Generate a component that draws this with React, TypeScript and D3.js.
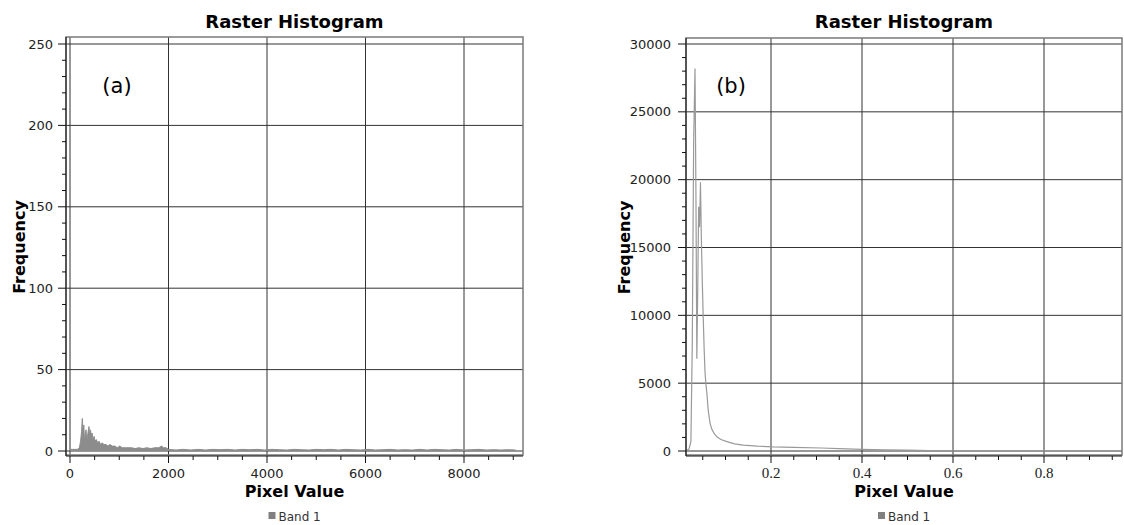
import React from "react";
import * as d3 from "d3";

// (a) histogram: pixel value bins and counts
const leftBins = [0, 50, 100, 150, 190, 215, 235, 250, 265, 280, 295, 310, 325, 340, 355, 370, 385, 400, 415, 430, 450, 470, 490, 510, 535, 560, 590, 620, 650, 690, 730, 770, 810, 860, 910, 960, 1010, 1060, 1120, 1180, 1250, 1320, 1400, 1480, 1560, 1640, 1720, 1800, 1860, 1900, 1950, 2000, 2150, 2300, 2450, 2600, 2750, 2900, 3050, 3200, 3350, 3500, 3650, 3800, 3950, 4100, 4250, 4400, 4550, 4700, 4850, 5000, 5150, 5300, 5450, 5600, 5750, 5900, 6050, 6200, 6350, 6500, 6650, 6800, 6950, 7100, 7250, 7400, 7550, 7700, 7850, 8000, 8150, 8300, 8450, 8600, 8750, 8900, 9050];
const leftFreq = [1, 1, 1, 1, 2, 6, 12, 20, 11, 16, 6, 10, 13, 7, 9, 12, 15, 9, 13, 10, 11, 7, 9, 6, 7, 5, 6, 4, 5, 4, 4, 3, 4, 3, 3, 2, 3, 2, 2, 2, 2, 1.5, 2, 1.5, 2, 1.5, 2, 2, 3, 2, 2, 1, 0.6, 1, 0.6, 1, 0.6, 1, 0.8, 1, 0.6, 1, 0.8, 1, 0.6, 1, 0.8, 0.6, 1, 0.8, 0.6, 1, 0.8, 1, 0.6, 1, 0.8, 0.6, 1, 0.6, 0.8, 1, 0.6, 0.8, 0.6, 1, 0.6, 1, 0.8, 0.6, 1, 0.6, 0.8, 1, 0.6, 0.8, 0.6, 0.8, 0.6];

// (b) histogram
const rightBins = [0.012, 0.02, 0.024, 0.027, 0.03, 0.033, 0.035, 0.037, 0.039, 0.041, 0.043, 0.045, 0.047, 0.049, 0.051, 0.053, 0.055, 0.057, 0.059, 0.062, 0.066, 0.07, 0.075, 0.081, 0.09, 0.103, 0.12, 0.139, 0.17, 0.205, 0.25, 0.31, 0.35, 0.4, 0.45, 0.5, 0.55, 0.6, 0.7, 0.8, 0.9, 0.97];
const rightFreq = [0, 150, 700, 8000, 22800, 28200, 19000, 6800, 12000, 18000, 16500, 19800, 15500, 12500, 9900, 7600, 5800, 4900, 4280, 3000, 2060, 1600, 1300, 1050, 850, 690, 530, 440, 360, 300, 260, 220, 170, 120, 90, 60, 30, 15, 8, 5, 3, 2];

const leftXTicks = [0, 2000, 4000, 6000, 8000];
const leftYTicks = [0, 50, 100, 150, 200, 250];
const rightXTicks = [0.2, 0.4, 0.6, 0.8];
const rightYTicks = [0, 5000, 10000, 15000, 20000, 25000, 30000];

const TITLE = "Raster Histogram";
const SANS = "DejaVu Sans, Verdana, sans-serif";

type PanelProps = {
  bins: number[];
  freq: number[];
  x: d3.ScaleLinear<number, number>;
  y: d3.ScaleLinear<number, number>;
  frame: { left: number; right: number; top: number; bottom: number };
  xTicks: number[];
  yTicks: number[];
  xMinor: number[];
  yMinor: number[];
  xFmt: (v: number) => string;
  xTickFont: string;
  xTickSize: number;
  yLabelGap: number;
  yTitleGap: number;
  tag: string;
  tagX: number;
  filled: boolean;
  id: string;
};

function Panel(p: PanelProps) {
  const { x, y, frame } = p;
  const pts = p.bins.map((b, i) => [b, p.freq[i]] as [number, number]);
  const line = d3.line<[number, number]>().x(d => x(d[0])).y(d => y(d[1]));
  const area = d3.area<[number, number]>().x(d => x(d[0])).y0(y(0)).y1(d => y(d[1]));
  const cx = (frame.left + frame.right) / 2;
  const cy = (frame.top + frame.bottom) / 2;
  return (
    <g>
      <defs>
        <clipPath id={p.id}>
          <rect x={frame.left} y={frame.top} width={frame.right - frame.left} height={frame.bottom - frame.top} />
        </clipPath>
      </defs>
      <text x={cx} y={28} textAnchor="middle" fontFamily={SANS} fontWeight="bold" fontSize={18}>{TITLE}</text>

      {/* grid + data */}
      <g clipPath={`url(#${p.id})`}>
        {p.xTicks.map(t => (
          <line key={"gx" + t} x1={x(t)} x2={x(t)} y1={frame.top} y2={frame.bottom} stroke="#333" />
        ))}
        {p.yTicks.map(t => (
          <line key={"gy" + t} x1={frame.left} x2={frame.right} y1={y(t)} y2={y(t)} stroke="#333" />
        ))}
        {p.filled && <path d={area(pts) || ""} fill="#8c8c8c" />}
        <path d={line(pts) || ""} fill="none" stroke={p.filled ? "#8c8c8c" : "#9a9a9a"} strokeWidth={p.filled ? 1 : 1.2} />
      </g>

      {/* frame + axes */}
      <rect x={frame.left} y={frame.top} width={frame.right - frame.left} height={frame.bottom - frame.top} fill="none" stroke="#7a7a7a" strokeWidth={1.5} />
      <line x1={frame.left} x2={frame.left} y1={frame.top} y2={frame.bottom + 1} stroke="#111" />
      <line x1={frame.left} x2={frame.right} y1={frame.bottom + 1} y2={frame.bottom + 1} stroke="#111" />

      {p.yTicks.map(t => (
        <g key={"yt" + t}>
          <line x1={frame.left - 8} x2={frame.left} y1={y(t)} y2={y(t)} stroke="#111" />
          <text x={frame.left - p.yLabelGap} y={y(t) + 4.5} textAnchor="end" fontFamily={SANS} fontSize={13} fill="#222">{t}</text>
        </g>
      ))}
      {p.yMinor.map(t => (
        <line key={"ym" + t} x1={frame.left - 4} x2={frame.left} y1={y(t)} y2={y(t)} stroke="#111" />
      ))}
      {p.xTicks.map(t => (
        <g key={"xt" + t}>
          <line x1={x(t)} x2={x(t)} y1={frame.bottom + 1} y2={frame.bottom + 8} stroke="#111" />
          <text x={x(t)} y={478} textAnchor="middle" fontFamily={p.xTickFont} fontSize={p.xTickSize} fill="#222">{p.xFmt(t)}</text>
        </g>
      ))}
      {p.xMinor.map(t => (
        <line key={"xm" + t} x1={x(t)} x2={x(t)} y1={frame.bottom + 1} y2={frame.bottom + 5} stroke="#111" />
      ))}

      <text x={cx} y={497} textAnchor="middle" fontFamily={SANS} fontWeight="bold" fontSize={16}>Pixel Value</text>
      <text transform={`translate(${frame.left - p.yTitleGap},${cy + 1}) rotate(-90)`} textAnchor="middle" fontFamily={SANS} fontWeight="bold" fontSize={16}>Frequency</text>
      <text x={p.tagX} y={93} textAnchor="middle" fontFamily={SANS} fontSize={21}>{p.tag}</text>

      <rect x={cx - 26} y={512} width={7} height={7} fill="#808080" />
      <text x={cx - 16} y={521} fontFamily={SANS} fontSize={12} fill="#333">Band 1</text>
    </g>
  );
}

export default function App() {
  const leftFrame = { left: 66, right: 523, top: 37, bottom: 455 };
  const xa = d3.scaleLinear().domain([0, 2000]).range([70, 168.5]);
  const ya = d3.scaleLinear().domain([0, 250]).range([451, 44]);
  const rightFrame = { left: 686, right: 1122, top: 38, bottom: 455 };
  const xb = d3.scaleLinear().domain([0.2, 0.4]).range([771, 862]);
  const yb = d3.scaleLinear().domain([0, 30000]).range([451, 44]);

  const leftXMinor = d3.range(500, 9200, 500).filter(v => v % 2000 !== 0);
  const leftYMinor = d3.range(10, 255, 10).filter(v => v % 50 !== 0);
  const rightXMinor = d3.range(1, 20).map(i => i * 0.05).filter((v, i) => (i + 1) % 4 !== 0);
  const rightYMinor = d3.range(1000, 30500, 1000).filter(v => v % 5000 !== 0);

  return (
    <div style={{ position: "absolute", left: 0, top: 0 }}>
      <svg width={1124} height={525} style={{ display: "block", background: "#fff" }}>
        <Panel id="ca" bins={leftBins} freq={leftFreq} x={xa} y={ya} frame={leftFrame}
          xTicks={leftXTicks} yTicks={leftYTicks} xMinor={leftXMinor} yMinor={leftYMinor}
          xFmt={v => String(v)} xTickFont={SANS} xTickSize={13} yLabelGap={13} yTitleGap={41}
          tag="(a)" tagX={117} filled={true} />
        <Panel id="cb" bins={rightBins} freq={rightFreq} x={xb} y={yb} frame={rightFrame}
          xTicks={rightXTicks} yTicks={rightYTicks} xMinor={rightXMinor} yMinor={rightYMinor}
          xFmt={v => d3.format(".1f")(v)} xTickFont="Liberation Serif, serif" xTickSize={15}
          yLabelGap={15} yTitleGap={56} tag="(b)" tagX={731} filled={false} />
      </svg>
    </div>
  );
}
